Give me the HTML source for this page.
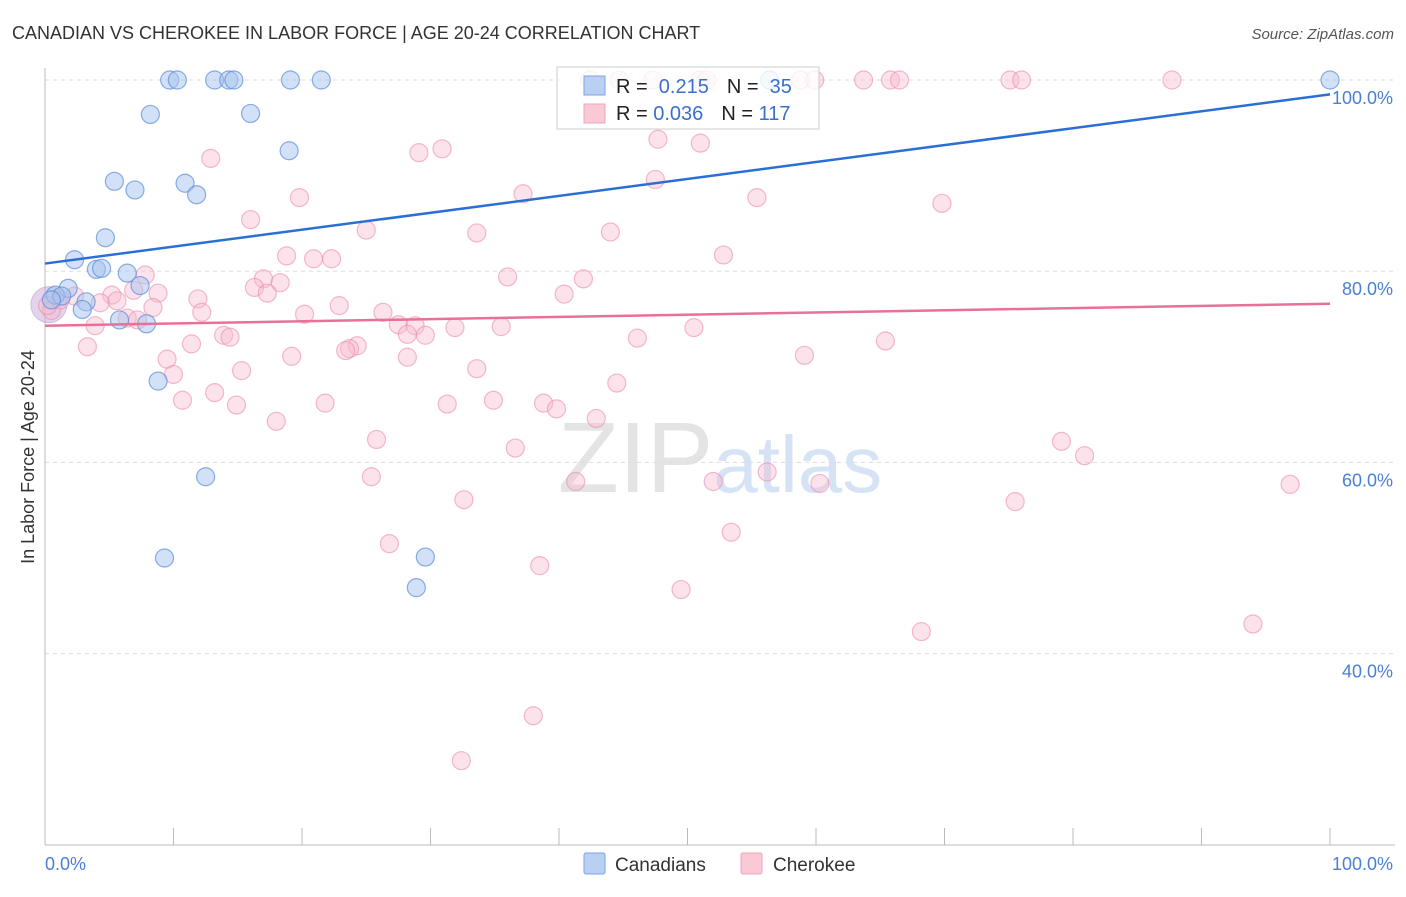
<!DOCTYPE html>
<html><head><meta charset="utf-8"><style>
body{margin:0;background:#fff;font-family:"Liberation Sans",sans-serif}
svg text{font-family:"Liberation Sans",sans-serif}
</style></head><body>
<svg id="chart" width="1406" height="892" viewBox="0 0 1406 892">
<text x="12" y="39" font-size="18" fill="#333">CANADIAN VS CHEROKEE IN LABOR FORCE | AGE 20-24 CORRELATION CHART</text>
<text x="1394" y="39" font-size="15" fill="#555" text-anchor="end" font-style="italic">Source: ZipAtlas.com</text>
<text x="720" y="492" font-size="100" fill="#e4e4e4" text-anchor="middle" font-family="Liberation Serif"><tspan>ZIP</tspan><tspan fill="#d5e3f5" font-family="Liberation Sans" font-size="80">atlas</tspan></text>
<g id="grid"></g>
<g id="axes"></g>
<g id="dots"></g>
<g id="trends"></g>
<text transform="translate(34,457) rotate(-90)" font-size="18" fill="#333" text-anchor="middle">In Labor Force | Age 20-24</text>
<text x="45" y="870" font-size="18" fill="#4a7fd4">0.0%</text>
<text x="1393" y="870" font-size="18" fill="#4a7fd4" text-anchor="end">100.0%</text>
<g>
<rect x="557" y="67" width="262" height="62" fill="#fff" fill-opacity="0.8" stroke="#ccc"/>
<rect x="584" y="76" width="21" height="19" fill="#b9d0f3" stroke="#7aa5e5"/>
<rect x="584" y="104" width="21" height="19" fill="#f9c9d6" stroke="#f0a5bb"/>
<text x="616" y="93" font-size="20" fill="#222">R = <tspan fill="#3a6fcf">&#160;0.215</tspan><tspan dx="18">N = </tspan><tspan fill="#3a6fcf">&#160;35</tspan></text>
<text x="616" y="120" font-size="20" fill="#222">R = <tspan fill="#3a6fcf">0.036</tspan><tspan dx="18">N = </tspan><tspan fill="#3a6fcf">117</tspan></text>
</g>
<g>
<rect x="584" y="853" width="21" height="21" fill="#b9d0f3" stroke="#7aa5e5" rx="2"/>
<text x="615" y="871" font-size="19" fill="#333">Canadians</text>
<rect x="741" y="853" width="21" height="21" fill="#f9c9d6" stroke="#f0a5bb" rx="2"/>
<text x="773" y="871" font-size="19" fill="#333">Cherokee</text>
</g>
</svg>
<script>
const yTicks=[100,80,60,40];
const yTickLabels=["100.0%","80.0%","60.0%","40.0%"];
const blueX=[9.7,10.3,13.2,14.3,14.7,19.1,21.5,100,8.2,16.0,19.0,5.4,7.0,10.9,11.8,4.7,2.3,4.0,4.4,6.4,7.4,1.8,0.8,1.3,3.2,2.9,5.8,7.9,8.8,12.5,9.3,29.6,28.9,56.4,0.5];
const blueY=[100,100,100,100,100,100,100,100,96.4,96.5,92.6,89.4,88.5,89.2,88.0,83.5,81.2,80.2,80.3,79.8,78.5,78.2,77.5,77.4,76.8,76.0,74.9,74.5,68.5,58.5,50.0,50.1,46.9,100,77.0];
const pinkX=[42.4,44.7,47.3,51.0,51.5,58.8,59.9,63.7,65.8,66.5,75.1,76.0,87.7,12.9,29.1,30.9,47.7,51.0,19.8,37.2,47.5,55.4,69.8,16.0,25.0,33.6,44.0,52.8,18.8,20.9,22.3,36.0,41.9,7.8,17.0,18.3,16.3,17.3,8.8,6.9,40.4,11.9,5.2,5.6,2.3,4.3,22.9,12.2,20.2,26.3,8.4,6.4,7.2,3.9,27.5,28.8,31.9,35.5,50.5,28.2,29.6,13.9,14.4,46.1,65.4,3.3,11.4,24.3,23.7,23.4,19.2,28.2,59.1,9.5,10.0,33.6,15.3,44.5,13.2,10.7,34.9,14.9,21.8,31.3,38.8,39.8,42.9,18.0,25.8,79.1,80.9,36.6,25.4,41.3,52.0,56.2,60.3,32.6,75.5,96.9,53.4,26.8,38.5,49.5,68.2,94.0,38.0,32.4,0.5,0.2,1.2];
const pinkY=[100,100,100,100,100,100,100,100,100,100,100,100,100,91.8,92.4,92.8,93.8,93.4,87.7,88.1,89.6,87.7,87.1,85.4,84.3,84.0,84.1,81.7,81.6,81.3,81.3,79.4,79.2,79.6,79.2,78.8,78.3,77.7,77.7,78.0,77.6,77.1,77.5,76.9,77.4,76.7,76.4,75.7,75.5,75.7,76.2,75.1,74.9,74.3,74.4,74.3,74.1,74.2,74.1,73.4,73.3,73.3,73.1,73.0,72.7,72.1,72.4,72.2,71.9,71.7,71.1,71.0,71.2,70.8,69.2,69.8,69.6,68.3,67.3,66.5,66.5,66.0,66.2,66.1,66.2,65.6,64.6,64.3,62.4,62.2,60.7,61.5,58.5,58.0,58.0,59.0,57.8,56.1,55.9,57.7,52.7,51.5,49.2,46.7,42.3,43.1,33.5,28.8,75.9,76.4,77.0];
const blueTrend=[80.8,98.5];
const pinkTrend=[74.3,76.6];
const NS="http://www.w3.org/2000/svg";
const X=v=>45+v*12.85;
const Y=v=>80+(100-v)*9.56;
function mk(t,a,p){const e=document.createElementNS(NS,t);for(const k in a)e.setAttribute(k,a[k]);p.appendChild(e);return e;}
const grid=document.getElementById('grid'),axes=document.getElementById('axes'),dots=document.getElementById('dots'),trends=document.getElementById('trends');
yTicks.forEach((t,i)=>{
 const l=mk('line',{x1:45,x2:1395,y1:Y(t),y2:Y(t),stroke:'#ddd','stroke-dasharray':'4,4'},grid);
 
 
 const tx=mk('text',{x:1393,y:Y(t)+24,'font-size':18,fill:'#4a7fd4','text-anchor':'end'},grid);
 tx.textContent=yTickLabels[i];
 
 
});
const ya=mk('line',{x1:45,x2:45,y1:68,y2:845,stroke:'#bbb'},axes);


const xa=mk('line',{x1:45,x2:1395,y1:845,y2:845,stroke:'#bbb'},axes);


for(let i=1;i<=10;i++){const tk=mk('line',{x1:X(i*10),x2:X(i*10),y1:828,y2:845,stroke:'#bbb'},axes);
 
 }
const big=mk('circle',{cx:X(0.3),cy:Y(76.5),r:18,fill:'rgba(200,170,215,0.5)',stroke:'rgba(190,160,210,0.6)'},dots);


pinkX.forEach((x,i)=>{const c=mk('circle',{cx:X(x),cy:Y(pinkY[i]),r:9,fill:'rgba(248,185,205,0.4)',stroke:'rgba(236,140,170,0.6)','stroke-width':1.2},dots);
 
 });
blueX.forEach((x,i)=>{const c=mk('circle',{cx:X(x),cy:Y(blueY[i]),r:9,fill:'rgba(165,195,240,0.5)',stroke:'rgba(90,140,215,0.7)','stroke-width':1.2},dots);
 
 });
const bt=mk('line',{x1:X(0),x2:X(100),y1:Y(blueTrend[0]),y2:Y(blueTrend[1]),stroke:'#2a6fd6','stroke-width':2.5},trends);


const pt=mk('line',{x1:X(0),x2:X(100),y1:Y(pinkTrend[0]),y2:Y(pinkTrend[1]),stroke:'#e8709a','stroke-width':2.5},trends);


</script>
</body></html>
